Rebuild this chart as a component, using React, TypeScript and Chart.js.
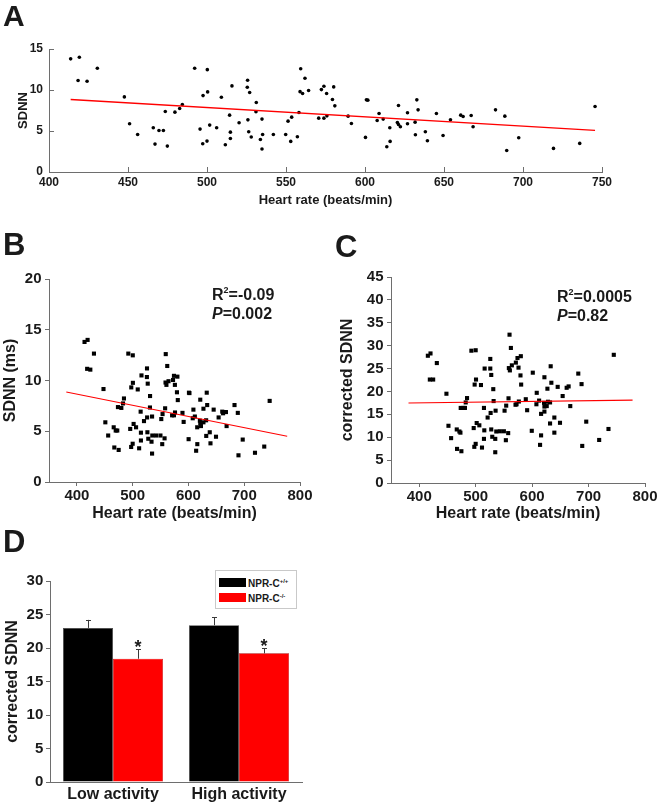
import React, { useEffect, useRef } from 'react';
import { Chart, registerables } from 'chart.js';

Chart.register(...registerables);

// ---------- DATA ----------
const heartRate = [
  413.7, 419.2, 418.4, 424.1, 430.6, 447.7, 451.0, 456.1, 466.0, 467.1,
  469.6, 472.4, 473.6, 474.9, 479.7, 482.7, 484.4, 492.2, 495.6, 497.5,
  497.3, 500.2, 500.4, 500.0, 501.7, 506.1, 509.1, 511.6, 514.3, 514.8,
  514.8, 515.8, 520.3, 525.7, 525.5, 527.0, 525.9, 526.4, 528.0, 531.2,
  531.0, 533.8, 534.8, 534.8, 535.2, 542.0, 549.8, 551.3, 553.0, 553.6,
  557.2, 558.2, 559.3, 558.9, 560.5, 562.0, 564.3, 570.7, 572.4, 574.0,
  574.0, 575.7, 575.9, 580.2, 579.4, 580.9, 589.3, 591.4, 600.3, 600.9,
  601.8, 608.9, 607.7, 611.5, 613.8, 615.9, 615.7, 621.2, 620.5, 621.2,
  622.4, 626.9, 626.9, 631.7, 631.9, 632.8, 633.6, 638.2, 639.5, 645.2,
  649.4, 654.1, 660.6, 662.1, 667.2, 668.4, 682.6, 688.5, 689.7, 697.3,
  719.3, 735.9, 745.6,
];
const sdnn = [
  13.8, 14.0, 11.15, 11.07, 12.65, 9.16, 5.88, 4.58, 5.39, 3.4,
  5.07, 5.07, 7.38, 3.16, 7.3, 7.74, 8.23, 12.65, 5.23, 9.32,
  3.45, 12.48, 9.77, 3.77, 5.72, 5.39, 9.12, 3.32, 6.93, 4.86,
  4.09, 10.5, 6.0, 11.19, 10.34, 9.69, 6.36, 4.9, 4.26, 8.47,
  7.34, 3.97, 2.8, 6.45, 4.58, 4.58, 4.58, 6.2, 3.73, 6.69,
  4.3, 7.26, 12.6, 9.8, 9.57, 11.43, 9.93, 6.57, 10.05, 10.46,
  6.57, 9.57, 6.85, 10.38, 8.84, 8.07, 6.81, 5.92, 4.22, 8.8,
  8.76, 7.13, 6.28, 6.45, 3.08, 3.73, 5.39, 8.11, 6.04, 5.8,
  5.51, 7.22, 5.88, 6.08, 4.54, 8.8, 7.58, 4.9, 3.81, 7.13,
  4.46, 6.36, 6.93, 6.77, 6.89, 5.51, 7.58, 6.81, 2.63, 4.18,
  2.88, 3.49, 7.99,
];
const heartRateC = [
  415.3, 420.0, 418.8, 424.7, 431.2, 448.2, 451.8, 456.5, 466.5, 467.0,
  471.2, 473.0, 474.7, 473.5, 478.2, 481.0, 482.4, 484.7, 492.4, 496.5,
  500.0, 498.2, 500.6, 497.6, 500.0, 501.8, 506.5, 509.4, 511.2, 514.7,
  515.3, 514.7, 515.9, 521.2, 525.9, 525.9, 527.6, 526.5, 527.6, 529.4,
  531.2, 531.8, 534.7, 534.7, 535.3, 536.5, 542.9, 550.0, 551.2, 553.5,
  554.1, 557.6, 558.2, 560.0, 562.4, 558.8, 560.6, 564.1, 571.2, 570.6,
  572.4, 574.1, 576.5, 575.9, 580.0, 579.4, 580.6, 588.8, 591.2, 599.4,
  601.2, 607.6, 608.2, 612.4, 614.1, 615.9, 615.9, 621.8, 621.2, 621.8,
  621.8, 625.9, 627.1, 628.2, 632.9, 634.1, 631.8, 631.8, 639.4, 639.4,
  645.3, 649.4, 654.1, 661.2, 664.7, 667.6, 681.8, 687.6, 688.8, 695.9,
  718.8, 735.3, 744.7,
];
const correctedSdnn = [
  27.8, 28.3, 22.6, 22.6, 26.2, 19.5, 12.5, 9.8, 11.7, 7.45,
  11.25, 11.0, 6.94, 16.4, 16.4, 16.4, 17.6, 18.55, 28.9, 12.0,
  29.0, 21.5, 22.6, 7.9, 8.55, 13.1, 12.6, 21.4, 7.74, 16.4,
  11.5, 9.64, 25.0, 14.3, 27.1, 25.0, 23.6, 15.3, 11.7, 10.1,
  20.5, 17.9, 9.64, 6.72, 15.8, 11.25, 11.3, 11.3, 15.8, 9.35,
  16.9, 10.9, 18.5, 32.4, 29.5, 25.1, 24.6, 25.7, 26.3, 17.1,
  17.2, 27.3, 17.8, 25.2, 27.7, 23.5, 21.5, 18.3, 15.9, 11.4,
  24.1, 17.2, 19.7, 18.0, 8.33, 10.4, 15.1, 23.1, 17.5, 16.7,
  15.6, 16.8, 20.6, 17.75, 25.5, 21.9, 17.6, 13.0, 14.3, 11.0,
  21.0, 13.15, 19.0, 20.8, 21.1, 16.8, 23.9, 21.6, 8.1, 13.4,
  9.4, 11.8, 28.0,
];
// regression line end points
const fitAX = [413.7, 745.6];
const fitAY = [8.84, 5.07];
const fitBX = [381, 777];
const fitBY = [8.87, 4.5];
const fitCX = [381, 778];
const fitCY = [17.46, 18.1];

const ticksAX = [400, 450, 500, 550, 600, 650, 700, 750];
const ticksBCX = [400, 500, 600, 700, 800];

const activityGroups = ['Low activity', 'High activity'];
const wildType = [23.0, 23.4];
const wildTypeErr = [1.2, 1.2];
const knockout = [18.4, 19.2];
const knockoutErr = [1.4, 0.8];
const significance = ['*', '*'];
const genotypeBase = 'NPR-C';
const genotypeSup = ['+/+', '-/-'];

const statsB = ['-0.09', '0.002'];
const statsC = ['0.0005', '0.82'];

// ---------- STYLE ----------
const FONT = "'Liberation Sans', Arial, Helvetica, sans-serif";
const AXIS = '#6e6e6e';
const TEXT = '#1a1a1a';

type Area = { l: number; t: number; r: number; b: number };
type Box = { left: number; top: number; width: number; height: number };

function pts(xs: number[], ys: number[]) {
  return xs.map((x, i) => ({ x, y: ys[i] }));
}

function fitPlugin(box: Box, area: Area) {
  return {
    padding: { left: 0, top: area.t - box.top, right: box.left + box.width - area.r, bottom: 0 },
    yWidth: area.l - box.left,
    xHeight: box.top + box.height - area.b,
  };
}

const inwardTicks = {
  id: 'inwardTicks',
  afterDraw(chart: any) {
    const { ctx, chartArea, scales } = chart;
    ctx.save();
    ctx.strokeStyle = AXIS;
    ctx.lineWidth = 1;
    ctx.beginPath();
    scales.x.ticks.forEach((t: any) => {
      const px = Math.round(scales.x.getPixelForValue(t.value)) + 0.5;
      ctx.moveTo(px, chartArea.bottom);
      ctx.lineTo(px, chartArea.bottom - 5);
    });
    scales.y.ticks.forEach((t: any) => {
      const py = Math.round(scales.y.getPixelForValue(t.value)) + 0.5;
      ctx.moveTo(chartArea.left, py);
      ctx.lineTo(chartArea.left + 5, py);
    });
    ctx.stroke();
    ctx.restore();
  },
};

const errorBars = {
  id: 'errorBars',
  afterDatasetsDraw(chart: any) {
    const { ctx, scales } = chart;
    const errs = [wildTypeErr, knockoutErr];
    ctx.save();
    chart.data.datasets.forEach((ds: any, di: number) => {
      const meta = chart.getDatasetMeta(di);
      meta.data.forEach((bar: any, i: number) => {
        const v = ds.data[i];
        const yTop = scales.y.getPixelForValue(v + errs[di][i]);
        const x = Math.round(bar.x) + 0.5;
        ctx.strokeStyle = '#3a3a3a';
        ctx.lineWidth = 1;
        ctx.beginPath();
        ctx.moveTo(x, bar.y);
        ctx.lineTo(x, yTop);
        ctx.moveTo(x - 2.5, Math.round(yTop) + 0.5);
        ctx.lineTo(x + 2.5, Math.round(yTop) + 0.5);
        ctx.stroke();
        if (di === 1) {
          ctx.fillStyle = TEXT;
          ctx.font = `bold 18px ${FONT}`;
          ctx.textAlign = 'center';
          ctx.textBaseline = 'alphabetic';
          ctx.fillText(significance[i], bar.x, yTop + 3.5);
        }
      });
    });
    ctx.restore();
  },
};

function useChart(ref: React.RefObject<HTMLCanvasElement>, make: () => any) {
  useEffect(() => {
    if (!ref.current) return;
    const chart = new Chart(ref.current, make());
    return () => chart.destroy();
  }, []);
}

function scatterConfig(opts: {
  box: Box; area: Area; xs: number[]; ys: number[]; fx: number[]; fy: number[];
  xMin: number; xMax: number; xTicks: number[]; yMax: number; yStep: number;
  yTitle: string; small: boolean; yTitlePad: number; xTitleBottom: number;
}) {
  const f = fitPlugin(opts.box, opts.area);
  const small = opts.small;
  const tickFont = { family: FONT, weight: 'bold' as const, size: small ? 12 : 15 };
  const titleFont = { family: FONT, weight: 'bold' as const, size: small ? 13 : 16 };
  const gridOpts = small
    ? { display: true, drawOnChartArea: false, drawTicks: false, color: AXIS }
    : { display: true, drawOnChartArea: false, drawTicks: true, tickLength: 4, color: AXIS };
  return {
    type: 'scatter',
    data: {
      datasets: [
        {
          data: pts(opts.xs, opts.ys),
          pointStyle: small ? 'circle' : 'rect',
          pointRadius: small ? 1.8 : 2.9,
          backgroundColor: '#000',
          borderWidth: 0,
          order: 2,
        },
        {
          type: 'line',
          data: pts(opts.fx, opts.fy),
          borderColor: '#ff0000',
          borderWidth: small ? 1.3 : 1.1,
          pointRadius: 0,
          showLine: true,
          fill: false,
          order: 1,
        },
      ],
    },
    options: {
      responsive: false,
      animation: false,
      devicePixelRatio: 1,
      layout: { padding: f.padding },
      plugins: { legend: { display: false }, tooltip: { enabled: false } },
      scales: {
        x: {
          type: 'linear',
          min: opts.xMin,
          max: opts.xMax,
          afterBuildTicks: (s: any) => { s.ticks = opts.xTicks.map((v) => ({ value: v })); },
          afterFit: (s: any) => { s.height = f.xHeight; },
          grid: gridOpts,
          border: { display: true, color: AXIS, width: 1 },
          ticks: { font: tickFont, color: TEXT, padding: small ? 3 : 1, maxRotation: 0 },
          title: {
            display: true, text: 'Heart rate (beats/min)', font: titleFont, color: TEXT,
            padding: { top: 0, bottom: opts.xTitleBottom },
          },
        },
        y: {
          type: 'linear',
          min: 0,
          max: opts.yMax,
          afterFit: (s: any) => { s.width = f.yWidth; },
          grid: gridOpts,
          border: { display: true, color: AXIS, width: 1 },
          ticks: { font: tickFont, color: TEXT, stepSize: opts.yStep, padding: small ? 6 : 3.5 },
          title: {
            display: true, text: opts.yTitle, font: titleFont, color: TEXT,
            padding: { top: opts.yTitlePad, bottom: 0 },
          },
        },
      },
    },
    plugins: small ? [inwardTicks] : [],
  };
}

const boxA: Box = { left: 0, top: 0, width: 660, height: 215 };
const areaA: Area = { l: 49, t: 49, r: 602, b: 172 };
const boxB: Box = { left: 0, top: 230, width: 330, height: 300 };
const areaB: Area = { l: 49, t: 279, r: 300, b: 482 };
const boxC: Box = { left: 330, top: 230, width: 330, height: 300 };
const areaC: Area = { l: 391, t: 277, r: 645, b: 483 };
const boxD: Box = { left: 0, top: 560, width: 330, height: 245 };
const areaD: Area = { l: 50, t: 581, r: 302, b: 782 };

function Canvas({ box, make }: { box: Box; make: () => any }) {
  const ref = useRef<HTMLCanvasElement>(null);
  useChart(ref, make);
  return (
    <canvas
      ref={ref}
      width={box.width}
      height={box.height}
      style={{ position: 'absolute', left: box.left, top: box.top, width: box.width, height: box.height }}
    />
  );
}

function barConfig() {
  const f = fitPlugin(boxD, areaD);
  const tickFont = { family: FONT, weight: 'bold' as const, size: 15 };
  return {
    type: 'bar',
    data: {
      labels: activityGroups,
      datasets: [
        { label: genotypeBase + genotypeSup[0], data: wildType, backgroundColor: '#000000', borderColor: '#444', borderWidth: 0.6 },
        { label: genotypeBase + genotypeSup[1], data: knockout, backgroundColor: '#ff0000', borderColor: '#b00000', borderWidth: 0.6 },
      ],
    },
    options: {
      responsive: false,
      animation: false,
      devicePixelRatio: 1,
      layout: { padding: f.padding },
      datasets: { bar: { categoryPercentage: 0.794, barPercentage: 1.0 } },
      plugins: { legend: { display: false }, tooltip: { enabled: false } },
      scales: {
        x: {
          afterFit: (s: any) => { s.height = f.xHeight; },
          grid: { display: false, drawTicks: false },
          border: { display: true, color: AXIS, width: 1 },
          ticks: { font: { family: FONT, weight: 'bold' as const, size: 16 }, color: TEXT, padding: 2.5 },
        },
        y: {
          min: 0,
          max: 30,
          afterFit: (s: any) => { s.width = f.yWidth; },
          grid: { display: true, drawOnChartArea: false, drawTicks: true, tickLength: 4, color: AXIS },
          border: { display: true, color: AXIS, width: 1 },
          ticks: { font: tickFont, color: TEXT, stepSize: 5, padding: 2.7 },
          title: {
            display: true, text: 'corrected SDNN', font: { family: FONT, weight: 'bold' as const, size: 16 },
            color: TEXT, padding: { top: 3, bottom: 0 },
          },
        },
      },
    },
    plugins: [errorBars],
  };
}

const textBase: React.CSSProperties = {
  position: 'absolute',
  fontFamily: FONT,
  fontWeight: 'bold',
  color: TEXT,
  lineHeight: 1,
  whiteSpace: 'nowrap',
  margin: 0,
};

function Label({ x, baseline, size, children }: { x: number; baseline: number; size: number; children: React.ReactNode }) {
  return <div style={{ ...textBase, left: x, top: baseline - 0.8465 * size, fontSize: size }}>{children}</div>;
}

function Stats({ x, baseline, vals }: { x: number; baseline: number; vals: string[] }) {
  return (
    <>
      <Label x={x} baseline={baseline} size={16}>
        R<sup style={{ fontSize: 9, verticalAlign: 0, position: 'relative', top: -7 }}>2</sup>={vals[0]}
      </Label>
      <Label x={x} baseline={baseline + 19} size={16}>
        <i>P</i>={vals[1]}
      </Label>
    </>
  );
}

function Legend() {
  const colors = ['#000000', '#ff0000'];
  return (
    <div style={{ position: 'absolute', left: 215, top: 570, width: 80, height: 37, border: '1px solid #c9c9c9', background: '#fff' }}>
      {genotypeSup.map((s, i) => (
        <React.Fragment key={i}>
          <div style={{ position: 'absolute', left: 2.5, top: 6.5 + i * 15, width: 27, height: 9.5, background: colors[i] }} />
          <div style={{ ...textBase, left: 32, top: 16 - 0.8465 * 10 + i * 15, fontSize: 10 }}>
            {genotypeBase}
            <span style={{ fontSize: 6, position: 'relative', top: -4 }}>{s}</span>
          </div>
        </React.Fragment>
      ))}
    </div>
  );
}

export default function App() {
  return (
    <div style={{ position: 'absolute', left: 0, top: 0, width: 660, height: 805, background: '#fff', overflow: 'hidden' }}>
      <Canvas
        box={boxA}
        make={() =>
          scatterConfig({
            box: boxA, area: areaA, xs: heartRate, ys: sdnn, fx: fitAX, fy: fitAY,
            xMin: 400, xMax: 750, xTicks: ticksAX, yMax: 15, yStep: 5, yTitle: 'SDNN',
            small: true, yTitlePad: 16, xTitleBottom: 7,
          })
        }
      />
      <Canvas
        box={boxB}
        make={() =>
          scatterConfig({
            box: boxB, area: areaB, xs: heartRate, ys: sdnn, fx: fitBX, fy: fitBY,
            xMin: 350, xMax: 800, xTicks: ticksBCX, yMax: 20, yStep: 5, yTitle: 'SDNN (ms)',
            small: false, yTitlePad: 0.5, xTitleBottom: 7,
          })
        }
      />
      <Canvas
        box={boxC}
        make={() =>
          scatterConfig({
            box: boxC, area: areaC, xs: heartRateC, ys: correctedSdnn, fx: fitCX, fy: fitCY,
            xMin: 350, xMax: 800, xTicks: ticksBCX, yMax: 45, yStep: 5, yTitle: 'corrected SDNN',
            small: false, yTitlePad: 8, xTitleBottom: 7,
          })
        }
      />
      <Canvas box={boxD} make={barConfig} />
      <Label x={3} baseline={26} size={30}>A</Label>
      <Label x={3} baseline={255} size={31}>B</Label>
      <Label x={335} baseline={257} size={31}>C</Label>
      <Label x={3} baseline={552} size={31}>D</Label>
      <Stats x={212} baseline={301} vals={statsB} />
      <Stats x={557} baseline={303} vals={statsC} />
      <Legend />
    </div>
  );
}
